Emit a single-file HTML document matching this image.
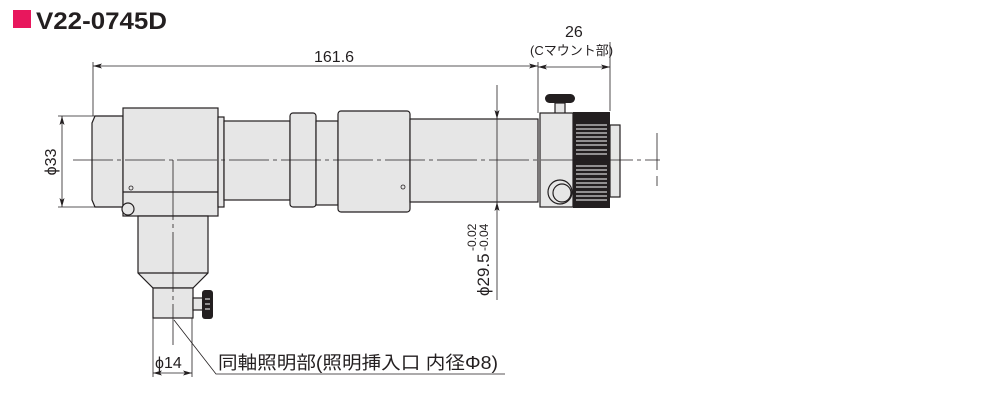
<!DOCTYPE html>
<html><head><meta charset="utf-8"><style>
html,body{margin:0;padding:0;background:#fff;}
svg{display:block;}
text{font-family:"Liberation Sans","Noto Sans CJK JP",sans-serif;fill:#231f20;}
</style></head><body>
<svg width="1001" height="401" viewBox="0 0 1001 401" xmlns="http://www.w3.org/2000/svg">
<defs>
<marker id="a" markerWidth="9" markerHeight="5" refX="9" refY="2.5" orient="auto-start-reverse" markerUnits="userSpaceOnUse"><path d="M0,0 L9,2.5 L0,5 L2,2.5 Z" fill="#231f20"/></marker>
</defs>
<rect x="13" y="10" width="18" height="18" fill="#e8175d"/>
<text x="36" y="29" font-size="24" font-weight="bold" textLength="131" lengthAdjust="spacingAndGlyphs">V22-0745D</text>

<g stroke="#231f20" stroke-width="1.2" fill="#e6e6e6">
<path d="M95,116 L123,116 L123,207 L95,207 L92,200 L92,123 Z"/>
<rect x="123" y="108" width="95" height="108"/>
<line x1="123" y1="192" x2="218" y2="192"/>
<rect x="218" y="117" width="6" height="90"/>
<rect x="224" y="121" width="66" height="79"/>
<rect x="290" y="113" width="26" height="94" rx="3"/>
<rect x="316" y="121" width="22" height="84"/>
<rect x="338" y="111" width="72" height="101" rx="3"/>
<rect x="410" y="119" width="128" height="83"/>
<path d="M138,216 L208,216 L208,273 L193,288 L153,288 L138,273 Z"/>
<line x1="138" y1="273" x2="208" y2="273"/>
<rect x="153" y="288" width="40" height="30"/>
<rect x="193" y="298" width="10" height="12"/>
<rect x="555" y="103" width="10" height="11"/>
<rect x="540" y="113" width="33" height="94"/>
<rect x="610" y="125" width="10" height="72"/>
<circle cx="560" cy="192" r="12"/>
<circle cx="562" cy="193" r="9"/>
<circle cx="128" cy="209" r="6"/>
</g>
<rect x="545" y="94" width="30" height="9" rx="4.5" fill="#231f20"/>
<rect x="202" y="290" width="11" height="29" rx="3" fill="#231f20"/>
<g stroke="#fff" stroke-width="1"><line x1="205" y1="299" x2="210" y2="299"/><line x1="205" y1="304" x2="210" y2="304"/><line x1="205" y1="309" x2="210" y2="309"/></g>
<rect x="573" y="112" width="37" height="96" fill="#231f20"/>
<g stroke="#fff" stroke-width="1">
<line x1="576" y1="125" x2="607" y2="125"/><line x1="576" y1="129" x2="607" y2="129"/><line x1="576" y1="133" x2="607" y2="133"/><line x1="576" y1="137" x2="607" y2="137"/><line x1="576" y1="141" x2="607" y2="141"/><line x1="576" y1="145" x2="607" y2="145"/><line x1="576" y1="150" x2="607" y2="150"/><line x1="576" y1="154" x2="607" y2="154"/><line x1="576" y1="166" x2="607" y2="166"/><line x1="576" y1="170" x2="607" y2="170"/><line x1="576" y1="174" x2="607" y2="174"/><line x1="576" y1="179" x2="607" y2="179"/><line x1="576" y1="183" x2="607" y2="183"/><line x1="576" y1="187" x2="607" y2="187"/><line x1="576" y1="192" x2="607" y2="192"/><line x1="576" y1="196" x2="607" y2="196"/><line x1="576" y1="200" x2="607" y2="200"/>
</g>
<g fill="none" stroke="#231f20" stroke-width="0.8">
<circle cx="131" cy="188" r="2"/><circle cx="403" cy="187" r="2"/>
<line x1="73" y1="160" x2="660" y2="160" stroke-dasharray="40,4,4,4"/>
<line x1="173" y1="160" x2="173" y2="345" stroke-dasharray="60,4,4,4"/>
<line x1="657" y1="133" x2="657" y2="170"/><line x1="657" y1="176" x2="657" y2="186"/>
<line x1="93" y1="62" x2="93" y2="116"/>
<line x1="538" y1="62" x2="538" y2="113"/>
<line x1="93" y1="66" x2="538" y2="66" marker-start="url(#a)" marker-end="url(#a)"/>
<line x1="610" y1="42" x2="610" y2="111"/>
<line x1="538" y1="67" x2="610" y2="67" marker-start="url(#a)" marker-end="url(#a)"/>
<line x1="58" y1="116" x2="95" y2="116"/><line x1="58" y1="207" x2="95" y2="207"/>
<line x1="62" y1="116" x2="62" y2="207" marker-start="url(#a)" marker-end="url(#a)"/>
<line x1="497" y1="85" x2="497" y2="119" marker-end="url(#a)"/>
<line x1="497" y1="300" x2="497" y2="202" marker-end="url(#a)"/>
<line x1="497" y1="119" x2="497" y2="202"/>
<line x1="153" y1="318" x2="153" y2="377"/><line x1="192" y1="318" x2="192" y2="377"/>
<line x1="153" y1="373" x2="192" y2="373" marker-start="url(#a)" marker-end="url(#a)"/>
<polyline points="174,320 216,374 505,374"/>
</g>
<text x="314" y="62" font-size="16">161.6</text>
<text x="565" y="37" font-size="16">26</text>
<text x="530" y="55" font-size="13">(Cマウント部)</text>
<text transform="translate(56,162) rotate(-90)" font-size="16" text-anchor="middle">ϕ33</text>
<text x="155" y="368" font-size="16">ϕ14</text>
<text transform="translate(489,296) rotate(-90)" font-size="17">ϕ29.5</text>
<text transform="translate(476,251) rotate(-90)" font-size="12">-0.02</text>
<text transform="translate(488,251) rotate(-90)" font-size="12">-0.04</text>
<text x="218" y="369" font-size="18" textLength="280" lengthAdjust="spacingAndGlyphs">同軸照明部(照明挿入口 内径Φ8)</text>
</svg>
</body></html>
